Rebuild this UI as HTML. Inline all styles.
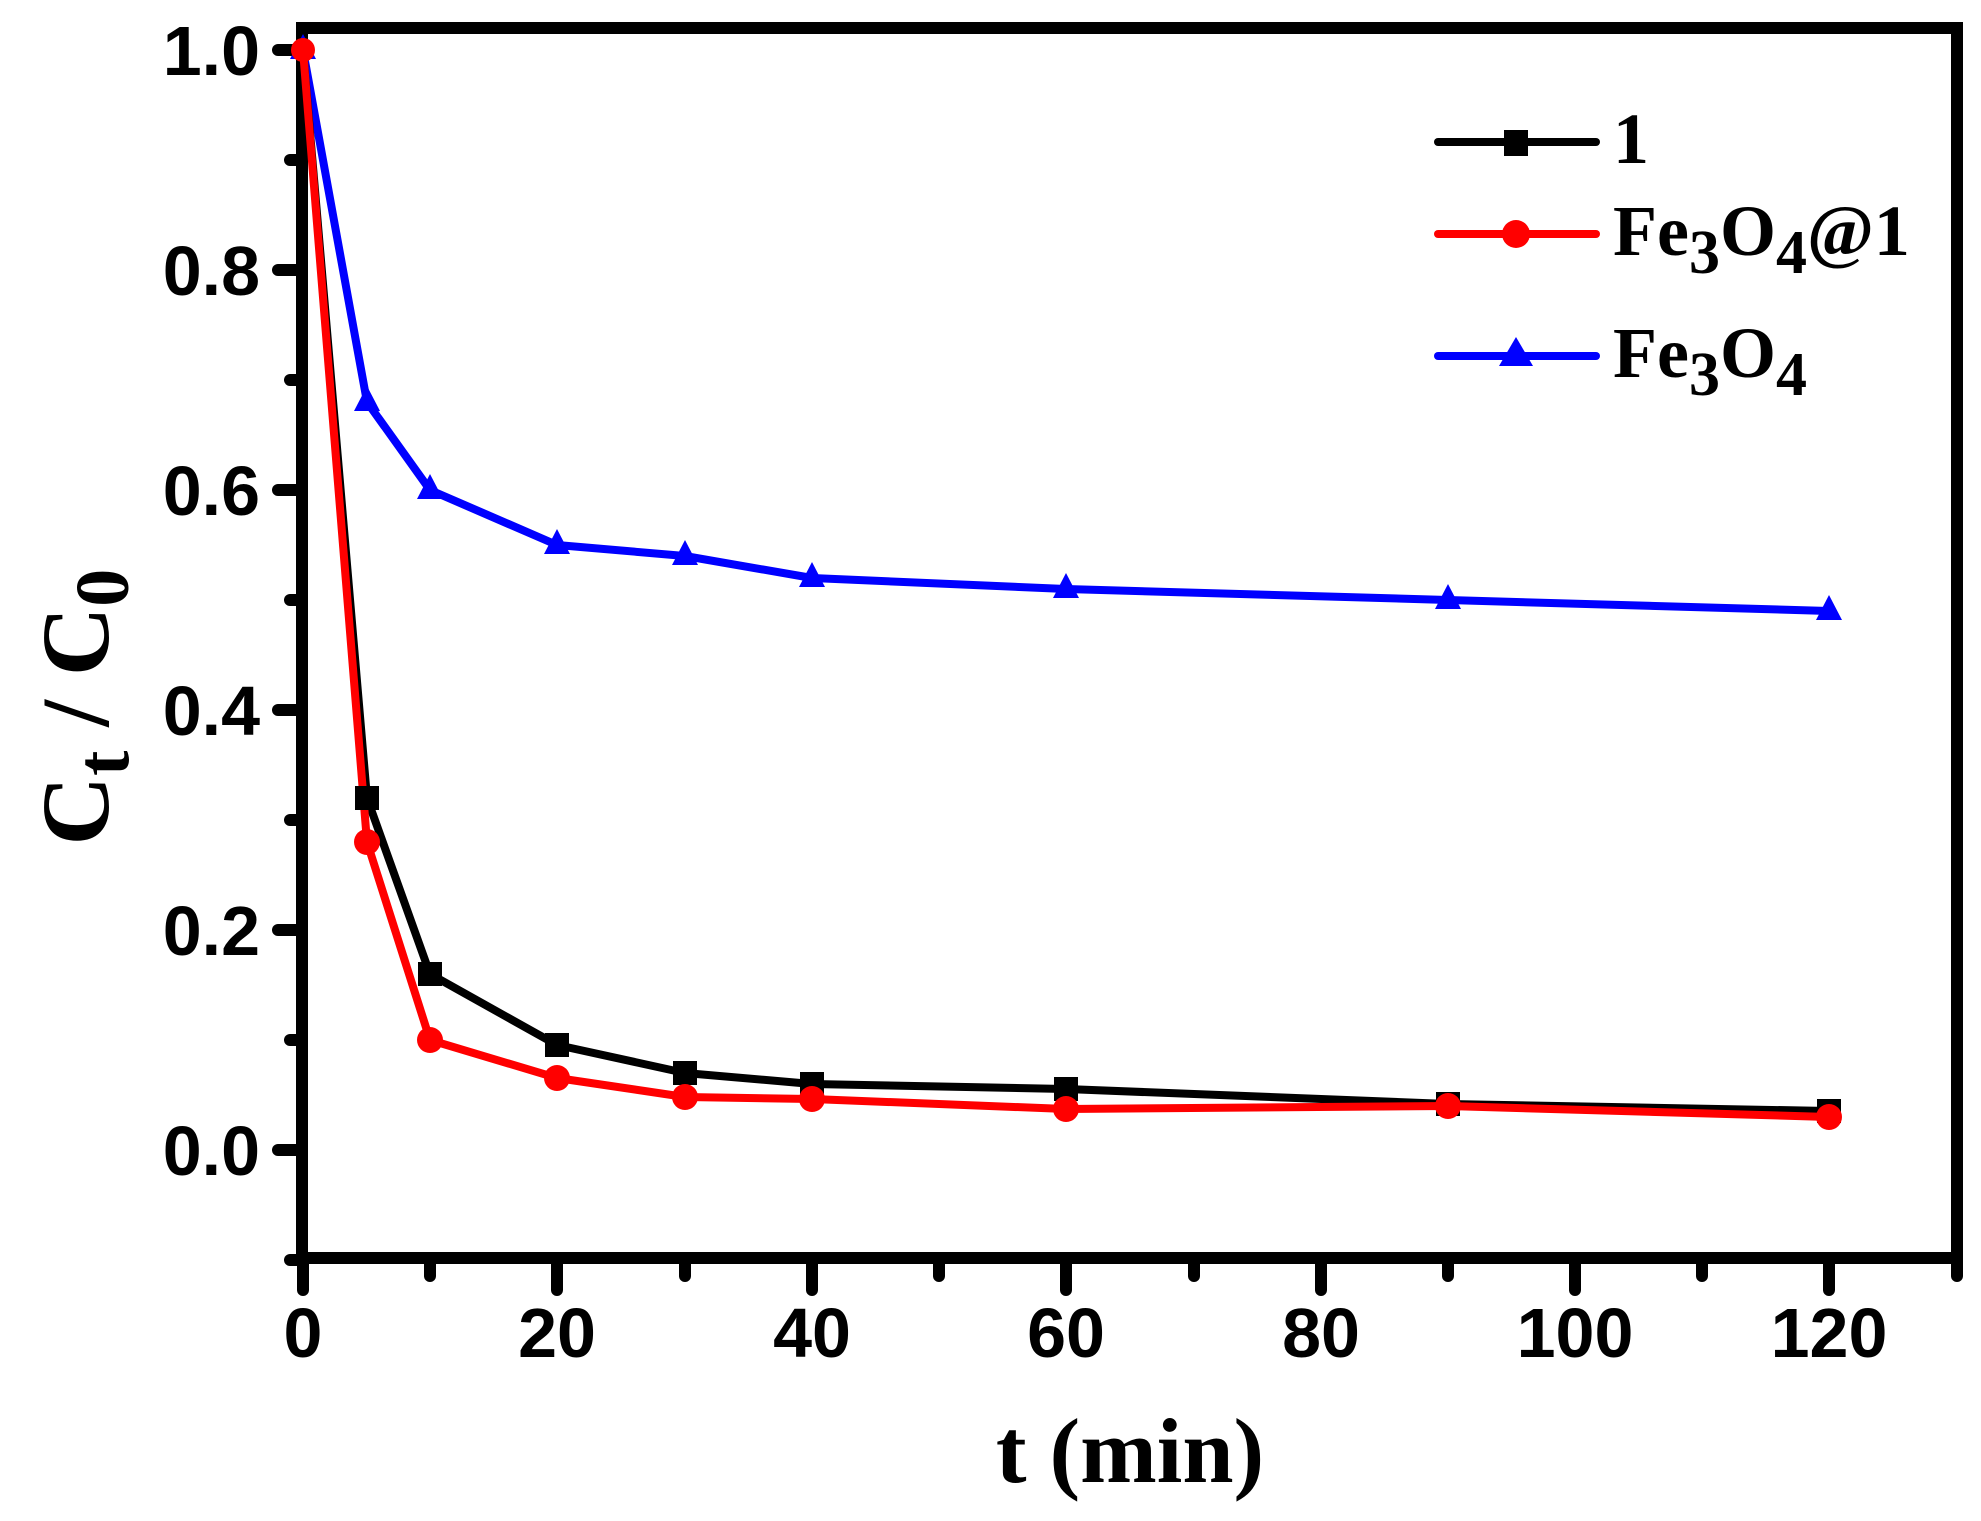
<!DOCTYPE html>
<html><head><style>html,body{margin:0;padding:0;background:#fff}</style></head>
<body>
<svg width="1981" height="1516" xmlns="http://www.w3.org/2000/svg">
<rect width="1981" height="1516" fill="#fff"/>
<rect x="302" y="28" width="1655" height="1230" fill="none" stroke="#000" stroke-width="12"/>
<g stroke="#000" stroke-width="12" stroke-linecap="round">
<line x1="278" y1="50" x2="302" y2="50"/><line x1="278" y1="270" x2="302" y2="270"/>
<line x1="278" y1="490" x2="302" y2="490"/><line x1="278" y1="710" x2="302" y2="710"/>
<line x1="278" y1="930" x2="302" y2="930"/><line x1="278" y1="1150" x2="302" y2="1150"/>
<line x1="290" y1="160" x2="302" y2="160"/><line x1="290" y1="380" x2="302" y2="380"/>
<line x1="290" y1="600" x2="302" y2="600"/><line x1="290" y1="820" x2="302" y2="820"/>
<line x1="290" y1="1040" x2="302" y2="1040"/><line x1="290" y1="1260" x2="302" y2="1260"/>
<line x1="303" y1="1258" x2="303" y2="1290"/><line x1="557" y1="1258" x2="557" y2="1290"/>
<line x1="812" y1="1258" x2="812" y2="1290"/><line x1="1066" y1="1258" x2="1066" y2="1290"/>
<line x1="1321" y1="1258" x2="1321" y2="1290"/><line x1="1575" y1="1258" x2="1575" y2="1290"/>
<line x1="1829" y1="1258" x2="1829" y2="1290"/>
<line x1="430" y1="1258" x2="430" y2="1276"/><line x1="685" y1="1258" x2="685" y2="1276"/>
<line x1="939" y1="1258" x2="939" y2="1276"/><line x1="1194" y1="1258" x2="1194" y2="1276"/>
<line x1="1448" y1="1258" x2="1448" y2="1276"/><line x1="1702" y1="1258" x2="1702" y2="1276"/>
<line x1="1957" y1="1258" x2="1957" y2="1276"/>
</g>
<g font-family="Liberation Sans, Arial, sans-serif" font-weight="bold" font-size="70" fill="#000">
<g text-anchor="end">
<text x="260" y="75">1.0</text><text x="260" y="295">0.8</text><text x="260" y="515">0.6</text>
<text x="260" y="735">0.4</text><text x="260" y="955">0.2</text><text x="260" y="1175">0.0</text>
</g>
<g text-anchor="middle">
<text x="303" y="1357">0</text><text x="557" y="1357">20</text><text x="812" y="1357">40</text>
<text x="1066" y="1357">60</text><text x="1321" y="1357">80</text><text x="1575" y="1357">100</text>
<text x="1829" y="1357">120</text>
</g>
</g>
<g font-family="Liberation Serif, Times New Roman, serif" font-weight="bold" fill="#000">
<text x="1130" y="1482" font-size="92" text-anchor="middle">t (min)</text>
<text transform="translate(108,707) rotate(-90)" font-size="96" text-anchor="middle">C<tspan font-size="76" dy="20">t</tspan><tspan dy="-20"> / C</tspan><tspan font-size="76" dy="20">0</tspan></text>
<text x="1613" y="163" font-size="72">1</text>
<text x="1613" y="255" font-size="72">Fe<tspan font-size="62" dy="18">3</tspan><tspan dy="-18">O</tspan><tspan font-size="62" dy="18">4</tspan><tspan dy="-18">@1</tspan></text>
<text x="1613" y="377" font-size="72">Fe<tspan font-size="62" dy="18">3</tspan><tspan dy="-18">O</tspan><tspan font-size="62" dy="18">4</tspan></text>
</g>
<g stroke-width="8" stroke-linecap="round">
<line x1="1438" y1="142" x2="1596" y2="142" stroke="#000"/>
<line x1="1438" y1="234" x2="1596" y2="234" stroke="#f00"/>
<line x1="1438" y1="356" x2="1596" y2="356" stroke="#00f"/>
</g>
<rect x="1504" y="130" width="24" height="26" fill="#000"/>
<circle cx="1516" cy="234" r="14" fill="#f00"/>
<polygon points="1516,337 1499,366 1533,366" fill="#00f"/>
<g fill="none" stroke-width="8" stroke-linejoin="round">
<polyline stroke="#00f" points="303,50 367,402 430,490 557,545 685,556 812,578 1066,589 1448,600 1829,611"/>
<polyline stroke="#000" points="303,50 367,798 430,974 557,1045 685,1073 812,1084 1066,1089 1448,1104 1829,1111"/>
<polyline stroke="#f00" points="303,50 367,842 430,1040 557,1078 685,1097 812,1099 1066,1109 1448,1106 1829,1117"/>
</g>
<g fill="#00f">
<polygon points="303,34 290,59 316,59"/><polygon points="367,386 354,411 380,411"/>
<polygon points="430,474 417,499 443,499"/><polygon points="557,529 544,554 570,554"/>
<polygon points="685,540 672,565 698,565"/><polygon points="812,562 799,587 825,587"/>
<polygon points="1066,573 1053,598 1079,598"/><polygon points="1448,584 1435,609 1461,609"/>
<polygon points="1829,595 1816,620 1842,620"/>
</g>
<g fill="#000">
<rect x="355" y="786" width="24" height="24"/><rect x="418" y="962" width="24" height="24"/>
<rect x="545" y="1033" width="24" height="24"/><rect x="673" y="1061" width="24" height="24"/>
<rect x="800" y="1072" width="24" height="24"/><rect x="1054" y="1077" width="24" height="24"/>
<rect x="1436" y="1092" width="24" height="24"/><rect x="1817" y="1099" width="24" height="24"/>
</g>
<g fill="#f00">
<circle cx="303" cy="50" r="12"/><circle cx="367" cy="842" r="13"/><circle cx="430" cy="1040" r="13"/>
<circle cx="557" cy="1078" r="13"/><circle cx="685" cy="1097" r="13"/><circle cx="812" cy="1099" r="13"/>
<circle cx="1066" cy="1109" r="13"/><circle cx="1448" cy="1106" r="13"/><circle cx="1829" cy="1117" r="13"/>
</g>
</svg>
</body></html>
